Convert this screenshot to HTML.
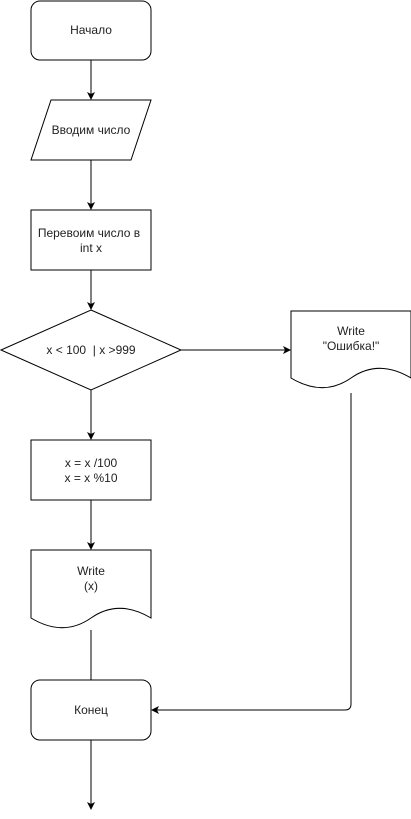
<!DOCTYPE html>
<html><head><meta charset="utf-8"><style>
html,body{margin:0;padding:0;background:#fff;width:411px;height:819px;overflow:hidden}
svg text{font-family:"Liberation Sans","DejaVu Sans",sans-serif;font-size:12px;fill:#222;text-anchor:middle}
</style></head><body>
<svg width="411" height="819" viewBox="0 0 411 819" xmlns="http://www.w3.org/2000/svg">
<defs><marker id="ar" markerWidth="8" markerHeight="8" refX="7" refY="4" orient="auto" markerUnits="userSpaceOnUse"><path d="M0,0 L8,4 L0,8 L2,4 Z" fill="#000"/></marker></defs>
<g fill="none" stroke="#000" stroke-width="1">
<line x1="91" y1="60" x2="91" y2="99" marker-end="url(#ar)"/>
<line x1="91" y1="160" x2="91" y2="209" marker-end="url(#ar)"/>
<line x1="91" y1="270" x2="91" y2="309" marker-end="url(#ar)"/>
<line x1="181" y1="350" x2="290" y2="350" marker-end="url(#ar)"/>
<line x1="91" y1="390" x2="91" y2="439" marker-end="url(#ar)"/>
<line x1="91" y1="500" x2="91" y2="549" marker-end="url(#ar)"/>
<line x1="91" y1="630" x2="91" y2="680"/>
<path d="M351,393 V704 Q351,710 345,710 H152" marker-end="url(#ar)"/>
<line x1="91" y1="740" x2="91" y2="809" marker-end="url(#ar)"/>
<rect x="31" y="1" width="120" height="59" rx="9" fill="#fff"/>
<path d="M51,100 H151 L131,160 H31 Z" fill="#fff"/>
<rect x="31" y="210" width="120" height="60" fill="#fff"/>
<path d="M91,310 L181,350 L91,390 L1,350 Z" fill="#fff"/>
<path d="M291,311 H411 V378 C391,366 371,364 351,378 C331,392 311,390 291,378 Z" fill="#fff"/>
<rect x="31" y="440" width="120" height="60" fill="#fff"/>
<path d="M31,550 H151 V618 C131,606 111,604 91,618 C71,632 51,630 31,618 Z" fill="#fff"/>
<rect x="31" y="680" width="120" height="60" rx="9" fill="#fff"/>
</g>
<text x="91" y="34">Начало</text>
<text x="91" y="134">Вводим число</text>
<text x="89" y="237">Перевоим число в</text>
<text x="91" y="252">int x</text>
<text x="91" y="354" xml:space="preserve">x &lt; 100  | x &gt;999</text>
<text x="351" y="335">Write</text>
<text x="351" y="350">"Ошибка!"</text>
<text x="91" y="467">x = x /100</text>
<text x="91" y="482">x = x %10</text>
<text x="91" y="575">Write</text>
<text x="91" y="590">(x)</text>
<text x="91" y="714">Конец</text>
</svg>
</body></html>
